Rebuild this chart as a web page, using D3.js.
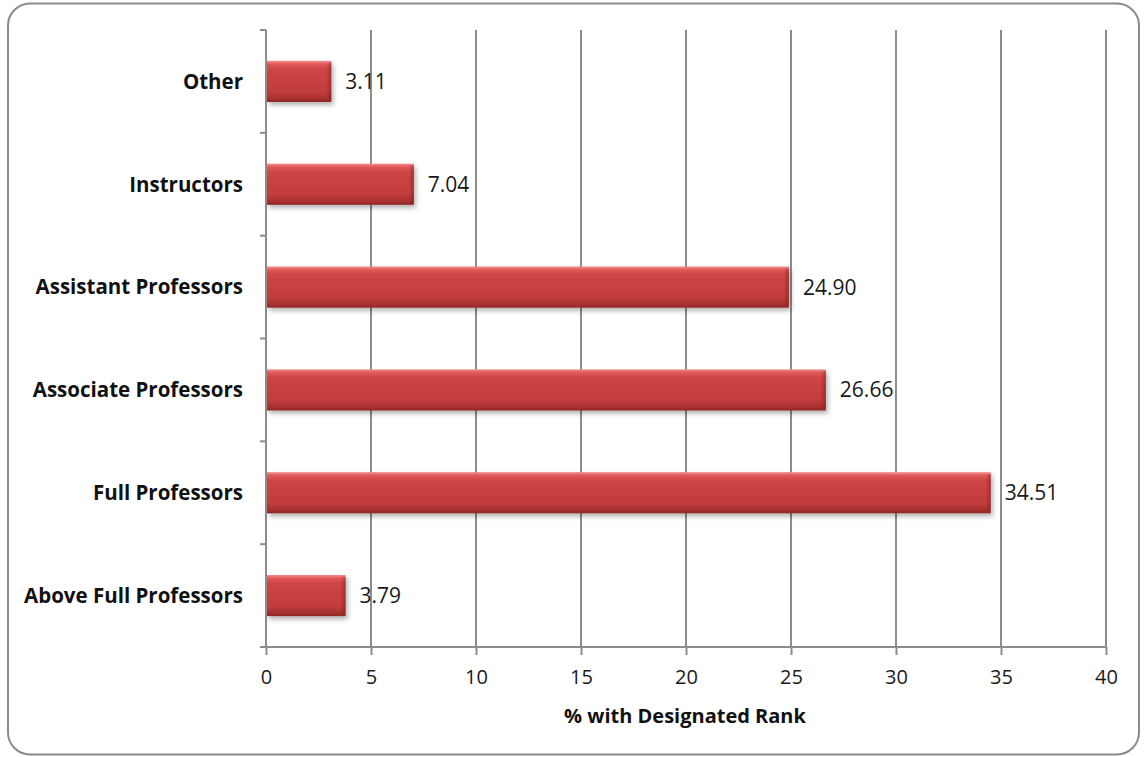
<!DOCTYPE html>
<html>
<head>
<meta charset="utf-8">
<script src="https://cdn.jsdelivr.net/npm/d3@7"></script>
<style>
  html, body { margin: 0; padding: 0; background: #fff; }
  svg { display: block; }
</style>
</head>
<body>
<svg id="chart" width="1144" height="757"></svg>
<script>
// Faculty rank distribution (percent with designated rank)
const categories = ["Other", "Instructors", "Assistant Professors", "Associate Professors", "Full Professors", "Above Full Professors"];
const values = [3.11, 7.04, 24.90, 26.66, 34.51, 3.79];
const xTicks = [0, 5, 10, 15, 20, 25, 30, 35, 40];
const xTitle = "% with Designated Rank";

const FONT = "'Open Sans', Lato, sans-serif";

const svg = d3.select("#chart");
const W = 1144, H = 757;
const margin = { left: 266, right: 38, top: 30, bottom: 110 };
const plotW = W - margin.left - margin.right;
const plotH = H - margin.top - margin.bottom;

// rounded outer frame
svg.append("rect")
  .attr("x", 8).attr("y", 3.5)
  .attr("width", 1131).attr("height", 751)
  .attr("rx", 22).attr("ry", 22)
  .attr("fill", "#fff")
  .attr("stroke", "#8a8a8a").attr("stroke-width", 2);

const defs = svg.append("defs");
const grad = defs.append("linearGradient")
  .attr("id", "barGrad").attr("x1", 0).attr("y1", 0).attr("x2", 0).attr("y2", 1);
[[0, "#f58a8a"], [0.08, "#e05a5a"], [0.2, "#cf4545"], [0.75, "#c23c3c"], [0.92, "#a83030"], [1, "#8e2626"]]
  .forEach(([o, c]) => grad.append("stop").attr("offset", o).attr("stop-color", c));
const edge = defs.append("linearGradient")
  .attr("id", "edgeGrad").attr("x1", 0).attr("y1", 0).attr("x2", 1).attr("y2", 0);
[[0, "rgba(120,20,20,0)"], [1, "rgba(120,20,20,0.45)"]]
  .forEach(([o, c]) => edge.append("stop").attr("offset", o).attr("stop-color", c));
const shadow = defs.append("filter").attr("id", "shadow")
  .attr("x", "-5%").attr("y", "-20%").attr("width", "115%").attr("height", "160%");
shadow.append("feDropShadow")
  .attr("dx", 2).attr("dy", 3).attr("stdDeviation", 2.5)
  .attr("flood-color", "#000").attr("flood-opacity", 0.3);

const g = svg.append("g").attr("transform", `translate(${margin.left},${margin.top})`);

const x = d3.scaleLinear().domain([0, 40]).range([0, plotW]);
const y = d3.scaleBand().domain(categories).range([0, plotH]).paddingInner(0.6).paddingOuter(0.3);
const yEdge = d3.scaleBand().domain(categories).range([0, plotH]).padding(0);

// vertical gridlines
g.append("g").selectAll("line").data(xTicks.filter(d => d > 0)).join("line")
  .attr("x1", d => x(d)).attr("x2", d => x(d))
  .attr("y1", 0).attr("y2", plotH)
  .attr("stroke", "#8c8c8c").attr("stroke-width", 2);

// bars
const bars = g.append("g").selectAll("g").data(categories).join("g")
  .attr("filter", "url(#shadow)");
bars.append("rect")
  .attr("x", x(0) + 1)
  .attr("y", d => y(d))
  .attr("width", (d, i) => x(values[i]) - x(0) - 1)
  .attr("height", y.bandwidth())
  .attr("fill", "url(#barGrad)");
bars.append("rect")
  .attr("x", (d, i) => x(values[i]) - 5)
  .attr("y", d => y(d) + 2)
  .attr("width", 5)
  .attr("height", y.bandwidth() - 4)
  .attr("fill", "url(#edgeGrad)");

// value labels
g.append("g").selectAll("text").data(categories).join("text")
  .attr("x", (d, i) => x(values[i]) + 14)
  .attr("y", d => y(d) + y.bandwidth() / 2)
  .attr("dy", "0.36em")
  .attr("font-family", FONT)
  .attr("font-size", 21)
  .attr("fill", "#1a1a1a")
  .text((d, i) => values[i].toFixed(2));

// y axis line and tick marks at band edges
g.append("line").attr("x1", 0).attr("x2", 0).attr("y1", 0).attr("y2", plotH)
  .attr("stroke", "#8c8c8c").attr("stroke-width", 2);
g.append("g").selectAll("line").data(categories).join("line")
  .attr("x1", -6).attr("x2", 0)
  .attr("y1", d => yEdge(d)).attr("y2", d => yEdge(d))
  .attr("stroke", "#8c8c8c").attr("stroke-width", 2);

// category labels
g.append("g").selectAll("text").data(categories).join("text")
  .attr("x", -23)
  .attr("y", d => y(d) + y.bandwidth() / 2)
  .attr("dy", "0.36em")
  .attr("text-anchor", "end")
  .attr("font-family", FONT)
  .attr("font-weight", "bold")
  .attr("font-size", 20.5)
  .attr("fill", "#111")
  .text(d => d);

// x axis
const xAxis = g.append("g").attr("transform", `translate(0,${plotH})`)
  .call(d3.axisBottom(x).tickValues(xTicks).tickSize(8).tickPadding(15).tickSizeOuter(0));
xAxis.select(".domain").attr("stroke", "#8c8c8c").attr("stroke-width", 2)
  .attr("d", `M-6,0H${plotW}`);
xAxis.selectAll(".tick line").attr("stroke", "#8c8c8c").attr("stroke-width", 2);
xAxis.selectAll(".tick text")
  .attr("font-family", FONT)
  .attr("font-size", 20)
  .attr("fill", "#1a1a1a");

// x axis title
g.append("text")
  .attr("x", plotW / 2 - 1)
  .attr("y", plotH + 69)
  .attr("dy", "0.36em")
  .attr("text-anchor", "middle")
  .attr("font-family", FONT)
  .attr("font-weight", "bold")
  .attr("font-size", 20)
  .attr("fill", "#111")
  .text(xTitle);
</script>
</body>
</html>
